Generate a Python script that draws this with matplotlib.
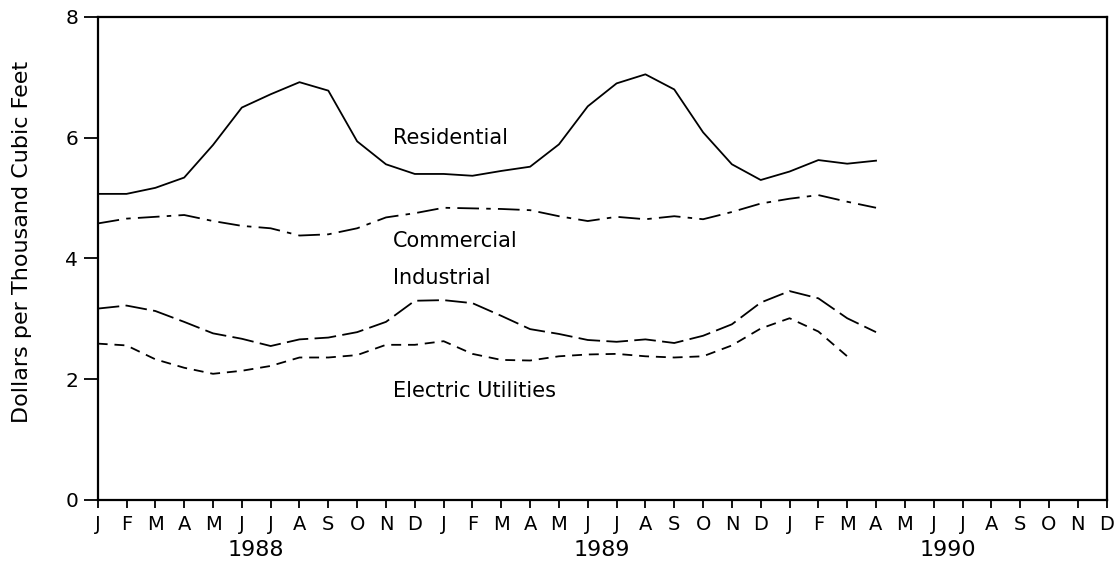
import matplotlib.pyplot as plt
from matplotlib.transforms import blended_transform_factory

# Monthly gas prices, Jan 1988 onward (dollars per thousand cubic feet)
months = ["J", "F", "M", "A", "M", "J", "J", "A", "S", "O", "N", "D"]
years = ["1988", "1989", "1990"]

residential = [5.07, 5.07, 5.17, 5.34, 5.88, 6.50, 6.72, 6.92, 6.78, 5.94, 5.56, 5.40,
               5.40, 5.37, 5.45, 5.52, 5.89, 6.52, 6.90, 7.05, 6.80, 6.09, 5.56, 5.30,
               5.44, 5.63, 5.57, 5.62]
commercial = [4.58, 4.66, 4.69, 4.72, 4.62, 4.54, 4.50, 4.38, 4.40, 4.50, 4.68, 4.75,
              4.84, 4.83, 4.82, 4.80, 4.70, 4.62, 4.69, 4.65, 4.70, 4.65, 4.77, 4.91,
              4.99, 5.05, 4.94, 4.84]
industrial = [3.17, 3.22, 3.13, 2.95, 2.76, 2.67, 2.55, 2.66, 2.69, 2.78, 2.95, 3.30,
              3.31, 3.26, 3.05, 2.83, 2.75, 2.65, 2.62, 2.66, 2.60, 2.72, 2.91, 3.27,
              3.46, 3.34, 3.01, 2.78]
electric = [2.59, 2.56, 2.33, 2.19, 2.09, 2.14, 2.22, 2.36, 2.36, 2.40, 2.57, 2.57,
            2.63, 2.42, 2.32, 2.31, 2.38, 2.41, 2.42, 2.38, 2.36, 2.38, 2.56, 2.84,
            3.01, 2.79, 2.38]

series = [
    ("Residential", residential, "-"),
    ("Commercial", commercial, (0, (12, 4, 2.5, 4))),
    ("Industrial", industrial, (0, (12, 3.5))),
    ("Electric Utilities", electric, (0, (5.5, 3.8))),
]

# where each series name is written (month index, value)
label_pos = {
    "Residential": (10.25, 5.99),
    "Commercial": (10.25, 4.29),
    "Industrial": (10.25, 3.68),
    "Electric Utilities": (10.25, 1.80),
}

plt.rcParams["font.family"] = ["DejaVu Sans"]

fig = plt.figure(figsize=(11.14, 5.64), dpi=100)
ax = fig.add_axes([0.0877, 0.1135, 0.9057, 0.8564])

for name, vals, ls in series:
    ax.plot(range(len(vals)), vals, color="black", lw=1.3, linestyle=ls)
    lx, ly = label_pos[name]
    ax.text(lx, ly, name, fontsize=15, va="center", ha="left")

ax.set_xlim(0, 35)
ax.set_ylim(0, 8)
ax.set_yticks([0, 2, 4, 6, 8])
ax.set_xticks(range(36))
ax.set_xticklabels(months * 3)

for sp in ax.spines.values():
    sp.set_linewidth(1.6)

ax.tick_params(axis="y", direction="out", length=10, width=1.3, labelsize=14.5, pad=4)
ax.tick_params(axis="x", direction="out", length=6, width=1.3, labelsize=14, pad=5)

trans = blended_transform_factory(ax.transData, ax.transAxes)
for i, yr in enumerate(years):
    ax.text(5.5 + 12 * i, -0.104, yr, transform=trans, ha="center", va="center",
            fontsize=16)

fig.text(22 / 1114, 1 - 242 / 564, "Dollars per Thousand Cubic Feet", rotation=90,
         ha="center", va="center", fontsize=16)

fig.savefig("out.png", dpi=100)
